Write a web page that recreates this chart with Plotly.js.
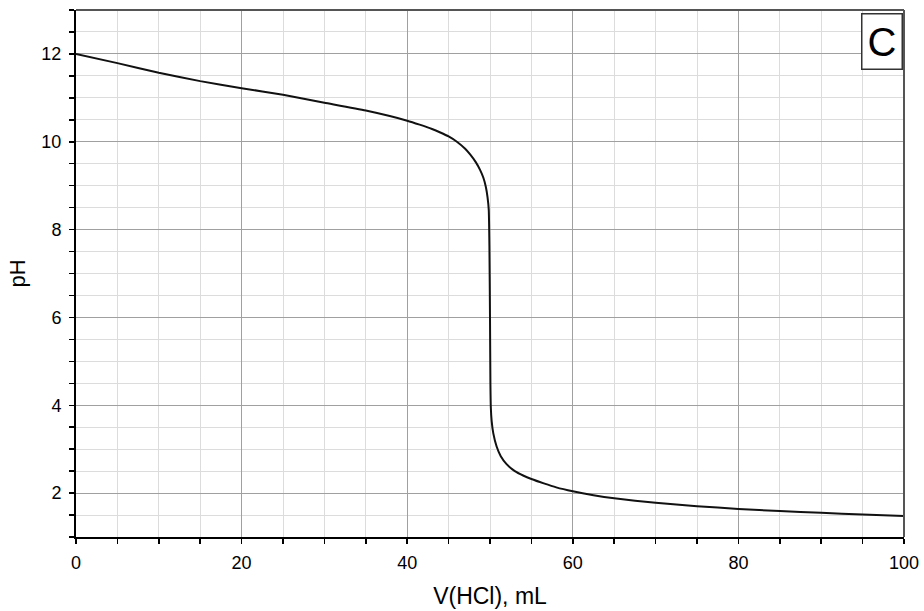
<!DOCTYPE html>
<html>
<head>
<meta charset="utf-8">
<script src="https://cdn.plot.ly/plotly-3.0.1.min.js"></script>
<style>html,body{margin:0;padding:0;background:#fff;}#chart{width:924px;height:611px;}</style>
</head>
<body>
<div id="chart"></div>
<script>
// Titration curve values
const volumeHCl = [0, 5, 10, 15, 20, 25, 30, 35, 40, 41.5, 43, 44, 45, 46, 47, 47.6, 48.3, 48.8, 49.2, 49.5, 49.7, 49.85, 49.93, 50.0, 50.05, 50.1, 50.2, 50.4, 50.8, 51.3, 52, 53, 54, 55, 56.5, 58, 60, 62.5, 65, 70, 75, 80, 85, 90, 95, 100];
const pHValues  = [12.0, 11.79, 11.57, 11.38, 11.22, 11.07, 10.89, 10.71, 10.48, 10.39, 10.29, 10.21, 10.12, 10.0, 9.84, 9.71, 9.53, 9.36, 9.18, 8.97, 8.74, 8.45, 7.6, 6.0, 4.5, 3.95, 3.64, 3.36, 3.06, 2.84, 2.66, 2.50, 2.40, 2.32, 2.22, 2.13, 2.04, 1.95, 1.88, 1.78, 1.70, 1.64, 1.59, 1.55, 1.51, 1.48];
const xTickVals = [0, 20, 40, 60, 80, 100];
const yTickVals = [2, 4, 6, 8, 10, 12];
const panelLabel = "C";
const xTitle = "V(HCl), mL";
const yTitle = "pH";

const font = "Liberation Sans, Arial, sans-serif";

const trace = {
  x: volumeHCl,
  y: pHValues,
  type: "scatter",
  mode: "lines",
  line: {color: "#111111", width: 2, shape: "spline", smoothing: 0.5},
  hoverinfo: "skip"
};

const layout = {
  width: 924,
  height: 611,
  margin: {l: 76, r: 20, t: 10, b: 74},
  paper_bgcolor: "#ffffff",
  plot_bgcolor: "#ffffff",
  showlegend: false,
  font: {family: font, size: 18, color: "#000"},
  xaxis: {
    range: [0, 100],
    tickvals: xTickVals,
    ticks: "outside",
    ticklen: 5,
    tickwidth: 1.5,
    tickcolor: "#000",
    ticklabelstandoff: 3,
    showgrid: true,
    gridcolor: "#a0a0a0",
    gridwidth: 1,
    showline: true,
    linecolor: "#000",
    linewidth: 2,
    zeroline: false,
    tickfont: {family: font, size: 18, color: "#000"},
    title: {text: xTitle, font: {family: font, size: 23, color: "#000"}, standoff: 16},
    minor: {dtick: 5, showgrid: true, gridcolor: "#dcdcdc", gridwidth: 1, ticks: "outside", ticklen: 5, tickcolor: "#000", tickwidth: 1.5}
  },
  yaxis: {
    range: [1, 13],
    tickvals: yTickVals,
    ticks: "outside",
    ticklen: 5,
    tickwidth: 1.5,
    tickcolor: "#000",
    ticklabelstandoff: 4,
    showgrid: true,
    gridcolor: "#a0a0a0",
    gridwidth: 1,
    showline: true,
    linecolor: "#000",
    linewidth: 2,
    zeroline: false,
    tickfont: {family: font, size: 18, color: "#000"},
    title: {text: yTitle, font: {family: font, size: 22, color: "#000"}, standoff: 10},
    minor: {dtick: 0.5, showgrid: true, gridcolor: "#dcdcdc", gridwidth: 1, ticks: "outside", ticklen: 5, tickcolor: "#000", tickwidth: 1.5}
  },
  shapes: [
    {type: "line", xref: "paper", yref: "paper", x0: 0, x1: 1, y0: 1, y1: 1, line: {color: "#555", width: 2}},
    {type: "line", xref: "paper", yref: "paper", x0: 1, x1: 1, y0: 0, y1: 1, line: {color: "#555", width: 2}}
  ],
  annotations: [{
    text: panelLabel,
    xref: "paper", yref: "paper",
    x: 0.999, y: 0.994,
    xanchor: "right", yanchor: "top",
    showarrow: false,
    font: {family: font, size: 40, color: "#000"},
    bgcolor: "#ffffff",
    bordercolor: "#333",
    borderwidth: 1.5,
    borderpad: 5
  }]
};

Plotly.newPlot("chart", [trace], layout, {displayModeBar: false, staticPlot: true});
</script>
</body>
</html>
